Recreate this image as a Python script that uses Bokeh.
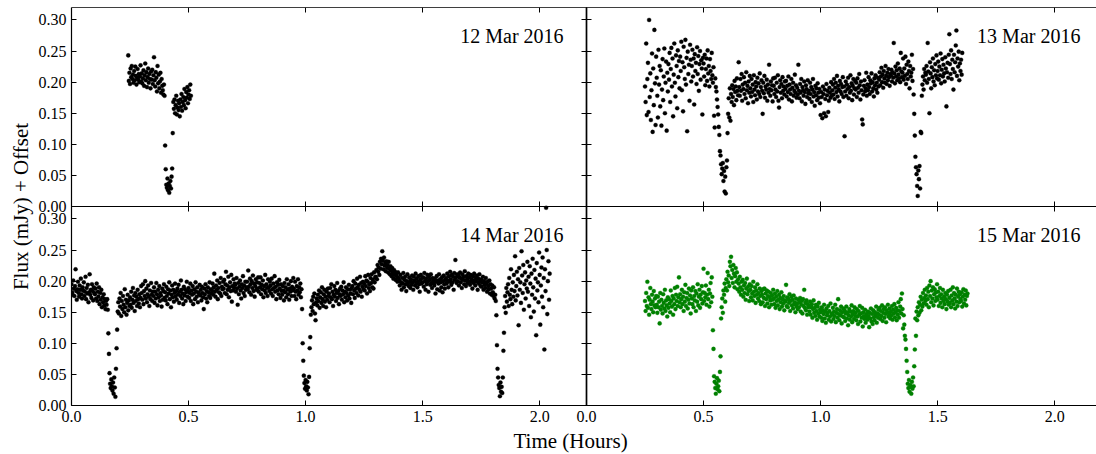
import numpy as np
from bokeh.plotting import figure
from bokeh.models import (Range1d, LinearAxis, FixedTicker, Label, Title,
                          ColumnDataSource, CustomJSTickFormatter)
from bokeh.embed import file_html
from bokeh.resources import INLINE

# ---------------- data (flux in mJy x 1000, sampled every cadence_h hours) ----
cadence_h = 0.0025

start_12mar = 0.2425
flux_12mar = [
    243,202,215,197,222,208,226,205,212,199,218,203,225,210,196,207,221,204,213,200,
    209,227,201,214,198,206,219,194,211,230,203,216,192,208,222,199,213,205,190,217,
    204,220,197,211,240,203,193,216,207,185,226,198,212,190,201,215,183,205,194,187,
    180,196,178,98,60,35,30,45,26,37,22,33,41,29,48,61,118,168,157,172,
    150,163,178,148,159,170,155,166,145,172,160,181,154,168,176,163,189,171,158,184,
    175,192,166,180,187,173,196,178]

start_13mar = 0.25
flux_13mar = [
    193,168,262,147,205,231,152,300,176,214,139,187,246,120,222,163,284,198,131,241,
    207,178,143,252,196,226,161,219,130,188,237,171,209,254,150,199,233,122,215,185,
    229,204,247,168,221,255,193,238,145,212,262,199,177,243,226,158,251,208,234,190,
    241,218,265,187,232,153,257,224,205,268,196,239,121,249,213,228,170,260,236,201,
    226,252,209,238,164,245,218,231,197,256,213,242,186,229,250,204,235,222,148,239,
    230,209,244,195,221,238,202,251,214,226,193,237,218,205,247,211,199,224,146,127,
    206,192,185,172,160,148,128,115,89,82,68,52,61,70,41,57,24,48,21,63,
    74,118,149,174,143,190,138,181,168,195,176,189,163,202,184,193,171,206,186,179,
    232,192,178,205,186,213,170,196,189,208,181,199,174,216,187,194,166,201,183,210,
    190,177,205,184,196,168,211,188,179,200,193,172,207,185,198,181,214,176,192,203,
    186,149,199,182,210,175,193,188,204,170,196,183,228,189,178,201,187,195,169,206,
    194,181,207,188,176,199,185,211,170,159,192,203,183,197,174,208,186,193,180,201,
    189,202,177,194,184,209,172,196,188,181,205,169,191,199,178,186,212,183,195,175,
    191,180,228,186,174,197,183,205,169,192,187,178,201,184,165,195,189,176,203,182,
    186,173,199,181,192,168,188,205,177,184,162,194,179,190,171,198,183,175,189,166,
    147,184,176,142,193,181,150,188,173,145,197,179,186,152,170,191,183,175,200,178,
    187,196,180,205,173,191,199,184,210,177,194,188,169,202,185,197,181,192,208,176,
    193,113,185,201,178,196,189,207,174,192,183,211,186,198,171,194,205,180,190,202,
    188,199,176,206,191,183,213,195,172,201,187,140,132,180,194,203,185,190,215,178,
    196,187,208,192,181,203,198,214,185,200,190,177,206,195,211,188,199,183,207,193,
    204,216,195,209,223,200,212,191,218,206,199,226,210,197,215,203,221,208,194,213,
    211,220,201,216,207,263,214,198,225,209,219,203,230,212,206,222,200,247,217,208,
    215,238,204,222,210,241,197,228,213,205,233,218,190,226,209,215,244,202,221,180,
    149,114,80,63,52,33,17,58,44,65,29,120,118,178,196,209,188,221,203,215,
    212,226,199,263,217,205,150,232,214,190,224,208,238,201,219,195,229,211,243,206,
    218,233,204,225,211,246,198,220,237,209,228,214,201,240,222,161,216,231,207,244,
    277,229,213,251,205,236,221,188,244,216,232,259,283,210,238,225,249,203,230,218,
    236,212,247]

start_14mar = 0.0
flux_14mar = [
    195,182,178,201,188,176,192,219,184,170,187,199,181,175,193,186,204,179,172,190,
    185,198,176,183,207,171,189,180,194,166,182,211,178,186,173,195,184,169,190,181,
    179,188,172,196,168,183,175,190,163,181,170,186,158,174,166,179,161,171,155,168,
    162,171,154,116,83,52,35,28,42,31,24,37,19,45,29,14,59,92,122,151,
    166,148,172,159,181,144,168,155,176,162,150,187,158,170,146,165,178,153,169,160,
    174,162,183,157,170,189,165,177,152,181,168,175,160,186,171,164,179,158,173,192,
    181,170,195,163,184,176,200,172,188,166,179,193,175,160,185,171,197,178,168,183,
    176,190,165,183,172,197,179,161,186,174,192,168,181,177,159,188,170,184,195,173,
    182,169,191,176,163,187,180,198,171,185,158,178,193,174,186,167,181,196,175,184,
    170,188,179,194,165,183,176,201,186,172,180,163,191,177,187,168,182,199,175,184,
    189,173,181,196,168,185,178,192,163,180,187,171,198,183,175,190,166,182,179,194,
    177,186,169,191,181,174,155,188,179,195,172,184,166,190,182,176,198,173,187,180,
    185,196,178,190,212,183,175,193,186,201,171,189,182,197,180,205,176,191,187,199,
    188,202,181,195,215,179,193,186,207,174,190,198,184,210,167,192,185,203,189,196,
    194,183,205,188,162,197,179,191,201,185,172,195,189,208,181,193,176,199,186,190,
    199,187,217,191,182,204,195,178,200,189,209,184,196,175,192,203,186,198,188,206,
    183,197,190,206,179,194,187,201,174,192,185,210,181,195,189,176,203,190,184,199,
    193,180,204,187,176,196,189,208,183,191,171,198,185,194,179,202,188,173,195,184,
    178,192,185,169,197,182,190,174,203,186,179,195,170,188,183,200,176,191,185,205,
    188,176,199,183,171,192,185,203,178,190,182,196,174,187,155,100,72,48,36,27,
    41,31,24,38,29,18,46,92,110,146,158,169,152,175,163,180,148,137,166,172,
    161,178,168,185,157,174,182,165,190,171,160,179,186,167,175,158,183,170,188,176,
    180,166,189,174,195,171,183,160,178,192,175,186,168,181,197,173,184,163,179,188,
    176,191,170,185,179,198,166,183,174,190,181,169,187,177,194,172,186,180,165,189,
    192,179,200,185,173,196,188,181,204,190,177,194,186,207,183,197,175,191,199,187,
    196,185,208,192,201,180,199,210,189,195,184,205,197,211,190,202,188,214,198,206,
    207,218,203,226,215,222,210,231,220,236,227,248,233,219,238,225,229,216,232,221,
    226,214,231,220,211,224,217,208,221,213,204,218,210,215,202,212,207,199,214,205,
    201,193,210,198,186,205,196,213,190,202,207,195,184,200,211,197,192,206,199,189,
    203,194,209,198,186,207,201,193,212,197,204,190,199,208,195,183,202,210,196,205,
    198,206,191,213,200,186,204,195,210,199,183,207,202,194,211,197,189,205,201,196,
    193,204,180,199,208,187,201,196,211,185,203,198,190,206,182,200,209,195,188,202,
    205,196,212,201,190,208,199,215,203,194,210,198,207,186,213,202,234,206,197,211,
    200,209,193,206,214,198,204,189,211,202,207,195,216,201,192,208,203,197,212,199,
    206,194,210,199,203,188,208,197,212,201,193,205,199,209,186,204,196,211,200,192,
    203,191,198,207,186,200,194,189,205,196,183,199,192,187,201,180,195,188,178,193,
    182,176,190,172,178,168,145,97,59,45,33,28,15,37,22,30,20,45,88,117,
    158,176,149,189,167,182,195,160,205,178,171,219,186,163,198,175,210,184,240,169,
    192,215,177,203,129,221,186,198,165,248,209,181,226,154,195,214,172,201,188,231,
    183,207,160,224,196,142,212,178,236,190,151,218,172,204,113,229,185,198,166,246,
    210,130,193,222,175,238,158,205,90,219,184,318,250,147,200,232,170,212]

start_15mar = 0.25
flux_15mar = [
    168,152,181,160,199,157,174,146,170,189,163,155,178,167,150,184,161,172,158,176,
    162,149,175,158,167,132,181,154,170,160,148,179,165,156,186,152,169,161,143,174,
    157,171,164,150,185,168,159,176,146,172,163,189,155,178,168,191,160,174,206,166,
    179,158,171,186,163,175,152,182,167,194,160,173,181,156,170,188,164,177,148,185,
    172,163,190,158,176,169,184,152,180,167,195,161,175,186,157,178,171,192,164,182,
    220,168,181,174,193,162,178,213,171,186,159,180,197,166,206,175,121,91,47,38,
    28,19,35,44,26,31,40,23,54,79,140,158,172,149,185,178,196,167,189,203,
    185,215,198,209,192,231,224,239,205,218,197,226,212,190,208,221,199,214,187,203,
    196,183,207,190,178,199,186,202,175,193,181,197,170,188,204,179,191,184,168,195,
    186,174,192,180,169,199,183,176,190,165,185,178,195,172,181,168,188,176,163,184,
    178,166,187,173,188,160,180,171,185,164,176,183,158,174,169,181,162,177,170,186,
    172,163,180,157,175,168,184,161,170,178,155,173,166,182,159,171,164,176,153,169,
    167,194,160,174,158,171,165,179,152,168,175,161,170,156,177,163,166,150,172,159,
    164,155,170,158,166,173,151,162,168,148,171,160,186,157,165,153,169,146,163,158,
    160,151,167,146,158,163,141,155,169,149,157,144,162,152,138,159,148,165,143,154,
    150,141,158,136,153,147,162,140,151,133,156,145,149,160,138,152,143,164,135,148,
    146,157,139,151,144,162,134,149,155,141,171,147,137,153,145,159,132,150,143,156,
    142,153,136,148,159,140,150,129,145,155,138,151,143,161,134,147,152,139,158,144,
    149,137,155,143,131,152,146,160,135,148,141,157,127,150,144,139,154,133,147,142,
    138,151,144,126,149,140,156,135,147,131,153,142,137,150,145,159,133,148,141,154,
    146,157,139,152,144,161,136,149,155,141,158,147,134,153,150,162,143,148,156,140,
    151,145,160,138,154,148,163,142,150,157,137,153,146,166,141,152,159,171,148,180,
    155,124,145,130,112,106,91,72,54,35,28,41,22,33,30,19,38,27,45,31,
    63,90,140,112,151,137,158,145,166,149,162,175,153,170,159,181,164,173,186,168,
    177,162,189,171,183,158,193,176,200,166,185,172,190,161,179,187,168,182,174,195,
    170,183,160,176,189,165,179,172,158,186,168,175,163,181,171,155,178,167,184,162,
    173,165,186,158,177,169,190,163,181,172,156,178,167,188,160,175,183,166,179,171,
    168,182,159,175,187,164,178,170,185,161,176,180]

panel_dates = ["12 Mar 2016", "13 Mar 2016", "14 Mar 2016", "15 Mar 2016"]
x_ticks = [0.0, 0.5, 1.0, 1.5, 2.0]
y_ticks = [0.0, 0.05, 0.10, 0.15, 0.20, 0.25, 0.30]
x_label = "Time (Hours)"
y_label = "Flux (mJy) + Offset"

# ---------------- figure ------------------------------------------------------
FONT = "Liberation Serif"
panel_xmax = 2.2      # hours shown in each left-hand panel
right_xmax = 2.1786   # hours visible in each right-hand panel
panel_ymax = 0.32     # mJy shown in each panel

p = figure(width=1096, height=454, output_backend="svg", toolbar_location=None,
           x_range=Range1d(0, panel_xmax + right_xmax),
           y_range=Range1d(0, 2 * panel_ymax),
           x_axis_location=None, y_axis_location=None,
           min_border_left=71, min_border_right=0,
           min_border_top=7, min_border_bottom=49)
p.extra_x_ranges = {"right": Range1d(-panel_xmax, right_xmax)}
p.extra_y_ranges = {"top": Range1d(-panel_ymax, panel_ymax)}
p.outline_line_color = None
p.background_fill_color = "white"
p.border_fill_color = "white"
p.grid.visible = False


def style_axis(ax, labels):
    ax.major_tick_in = 5
    ax.major_tick_out = 0
    ax.minor_tick_in = 0
    ax.minor_tick_out = 0
    ax.axis_line_color = "black"
    ax.axis_line_width = 1.2
    ax.major_tick_line_color = "black"
    ax.major_tick_line_width = 1
    ax.major_label_text_font = FONT
    ax.major_label_text_font_size = "16px"
    ax.major_label_standoff = 5
    ax.major_label_text_color = "black" if labels else None


def add_axis(side, ticks, fixed, xr="default", yr="default"):
    ax = LinearAxis(x_range_name=xr, y_range_name=yr, fixed_location=fixed,
                    ticker=FixedTicker(ticks=ticks, minor_ticks=[]))
    style_axis(ax, False)
    p.add_layout(ax, side)


# labelled outer axes: left panels' times and lower panels' fluxes share one
# axis each; the right/top panel positions are the panel offset + tick value
bottom_axis = LinearAxis(
    ticker=FixedTicker(ticks=x_ticks + [panel_xmax + t for t in x_ticks],
                       minor_ticks=[]),
    formatter=CustomJSTickFormatter(
        args=dict(off=panel_xmax),
        code="const v = tick >= off - 1e-9 ? tick - off : tick; return v.toFixed(1);"))
style_axis(bottom_axis, True)
p.add_layout(bottom_axis, "below")

left_axis = LinearAxis(
    ticker=FixedTicker(ticks=y_ticks + [panel_ymax + v for v in y_ticks],
                       minor_ticks=[]),
    formatter=CustomJSTickFormatter(
        args=dict(off=panel_ymax),
        code="const v = tick >= off - 1e-9 ? tick - off : tick; return Math.abs(v).toFixed(2);"))
style_axis(left_axis, True)
p.add_layout(left_axis, "left")

# inner tick marks (no labels)
add_axis("above", x_ticks, panel_ymax)                       # 14 Mar top
add_axis("right", y_ticks, panel_xmax)                       # 14 Mar right
add_axis("below", x_ticks, 0, yr="top")                      # 12 Mar bottom
add_axis("above", x_ticks, panel_ymax, yr="top")             # 12 Mar top
add_axis("right", y_ticks, panel_xmax, yr="top")             # 12 Mar right
add_axis("above", x_ticks, panel_ymax, xr="right")           # 15 Mar top
add_axis("left", y_ticks, 0, xr="right")                     # 15 Mar left
add_axis("below", x_ticks, 0, xr="right", yr="top")          # 13 Mar bottom
add_axis("above", x_ticks, panel_ymax, xr="right", yr="top")  # 13 Mar top
add_axis("left", y_ticks, 0, xr="right", yr="top")           # 13 Mar left


def panel(start, flux, color, xr, yr):
    t = start + cadence_h * np.arange(len(flux))
    src = ColumnDataSource(dict(t=t, flux=np.array(flux) / 1000.0))
    p.scatter("t", "flux", source=src, size=4.1, fill_color=color,
              line_color=color, line_width=0.3,
              x_range_name=xr, y_range_name=yr)


panel(start_12mar, flux_12mar, "black", "default", "top")
panel(start_13mar, flux_13mar, "black", "right", "top")
panel(start_14mar, flux_14mar, "black", "default", "default")
panel(start_15mar, flux_15mar, "#008000", "right", "default")

label_pos = [(2.102, "default", "top"), (2.110, "right", "top"),
             (2.102, "default", "default"), (2.110, "right", "default")]
for (lx, xr, yr), txt in zip(label_pos, panel_dates):
    p.add_layout(Label(x=lx, y=0.274, x_range_name=xr, y_range_name=yr,
                       text=txt, text_align="right",
                       text_baseline="alphabetic", text_font=FONT,
                       text_font_size="20px", text_color="black"))

p.add_layout(Title(text=x_label, align="left", offset=442,
                   text_font=FONT, text_font_size="21px",
                   text_font_style="normal", text_color="black",
                   standoff=4), "below")
p.add_layout(Title(text=y_label, align="center",
                   text_font=FONT, text_font_size="21px",
                   text_font_style="normal", text_color="black",
                   standoff=6), "left")

open("out.html", "w").write(file_html(p, INLINE))
